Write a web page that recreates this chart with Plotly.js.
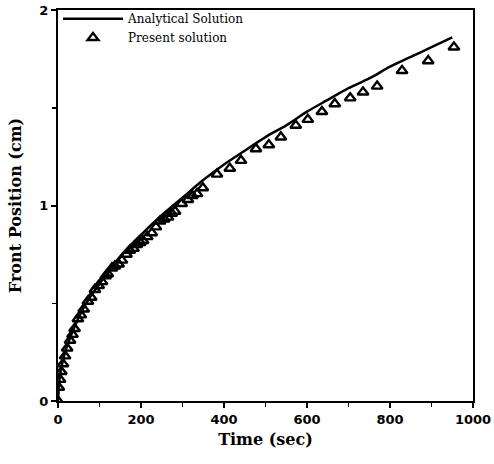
<!DOCTYPE html>
<html>
<head>
<meta charset="utf-8">
<script src="https://cdn.plot.ly/plotly-3.0.1.min.js"></script>
<style>html,body{margin:0;padding:0;background:#fff;}#chart{width:494px;height:464px;}</style>
</head>
<body>
<div id="chart"></div>
<script>
// Analytical solution (line)
const analyticalTime = [0, 5, 10, 20, 40, 60, 80, 100, 150, 200, 250, 300, 350, 400, 450, 500, 550, 600, 650, 700, 750, 800, 850, 900, 950];
const analyticalPos  = [0, 0.135, 0.19, 0.27, 0.38, 0.47, 0.54, 0.60, 0.74, 0.85, 0.95, 1.04, 1.13, 1.21, 1.28, 1.35, 1.41, 1.48, 1.54, 1.60, 1.65, 1.71, 1.76, 1.81, 1.86];

// Present solution (triangles)
const presentTime = [0, 2, 5, 8, 12, 17, 22, 29, 35, 40, 48, 55, 62, 72, 80, 89, 98, 106, 115, 120, 130, 137, 146, 154, 165, 173, 182, 190, 198, 205, 215, 226, 236, 246, 256, 265, 274, 282, 298, 313, 324, 335, 349, 383, 414, 441, 477, 508, 537, 573, 602, 636, 667, 704, 735, 769, 829, 892, 954];
const presentPos  = [0, 0.07, 0.11, 0.15, 0.19, 0.23, 0.27, 0.31, 0.34, 0.37, 0.42, 0.44, 0.47, 0.51, 0.53, 0.57, 0.59, 0.61, 0.64, 0.65, 0.68, 0.69, 0.70, 0.72, 0.75, 0.77, 0.78, 0.80, 0.81, 0.82, 0.84, 0.86, 0.89, 0.92, 0.93, 0.94, 0.96, 0.97, 1.01, 1.03, 1.05, 1.06, 1.09, 1.16, 1.19, 1.23, 1.29, 1.31, 1.35, 1.41, 1.44, 1.48, 1.52, 1.55, 1.58, 1.61, 1.69, 1.74, 1.81];

const seriesNames = ["Analytical Solution", "Present solution"];
const xTickVals = [0, 200, 400, 600, 800, 1000];
const yTickVals = [0, 1, 2];

const serif = "DejaVu Serif, Liberation Serif, serif";
const sans = "DejaVu Sans, Liberation Sans, sans-serif";

const traces = [
  {
    x: analyticalTime, y: analyticalPos, name: seriesNames[0],
    mode: "lines", type: "scatter",
    line: {color: "#000", width: 2.5, shape: "spline"}
  },
  {
    x: presentTime, y: presentPos, name: seriesNames[1],
    mode: "markers", type: "scatter",
    marker: {symbol: "triangle-up-open", size: 9.5, color: "#000", line: {width: 2.4, color: "#000"}}
  }
];

const layout = {
  width: 494, height: 464,
  margin: {l: 58, r: 21, t: 10, b: 63, autoexpand: false},
  paper_bgcolor: "#fff", plot_bgcolor: "#fff",
  showlegend: true,
  legend: {
    x: 0.0, y: 1.015, xanchor: "left", yanchor: "top",
    bgcolor: "rgba(0,0,0,0)", borderwidth: 0,
    font: {family: serif, size: 12, color: "#000"},
    itemwidth: 60, tracegroupgap: 0
  },
  xaxis: {
    range: [0, 1000], tickvals: xTickVals, ticktext: xTickVals.map(String),
    showgrid: false, zeroline: false,
    showline: true, linecolor: "#000", linewidth: 2, mirror: true,
    ticks: "outside", ticklen: 5, tickwidth: 2, tickcolor: "#000",
    minor: {dtick: 100, ticks: "outside", ticklen: 4, tickwidth: 1.5, tickcolor: "#000"},
    tickfont: {family: sans, size: 13, color: "#000", weight: "bold"},
    title: {text: "Time (sec)", font: {family: serif, size: 16, color: "#000", weight: "bold"}, standoff: 8}
  },
  yaxis: {
    range: [0, 2], tickvals: yTickVals, ticktext: yTickVals.map(String),
    showgrid: false, zeroline: false,
    showline: true, linecolor: "#000", linewidth: 2, mirror: true,
    ticks: "outside", ticklen: 5, tickwidth: 2, tickcolor: "#000",
    minor: {dtick: 0.5, ticks: "outside", ticklen: 4, tickwidth: 1.5, tickcolor: "#000"},
    tickfont: {family: sans, size: 13, color: "#000", weight: "bold"},
    title: {text: "Front Position (cm)", font: {family: serif, size: 16, color: "#000", weight: "bold"}, standoff: 14}
  }
};

Plotly.newPlot("chart", traces, layout, {displayModeBar: false, staticPlot: true});
</script>
</body>
</html>
